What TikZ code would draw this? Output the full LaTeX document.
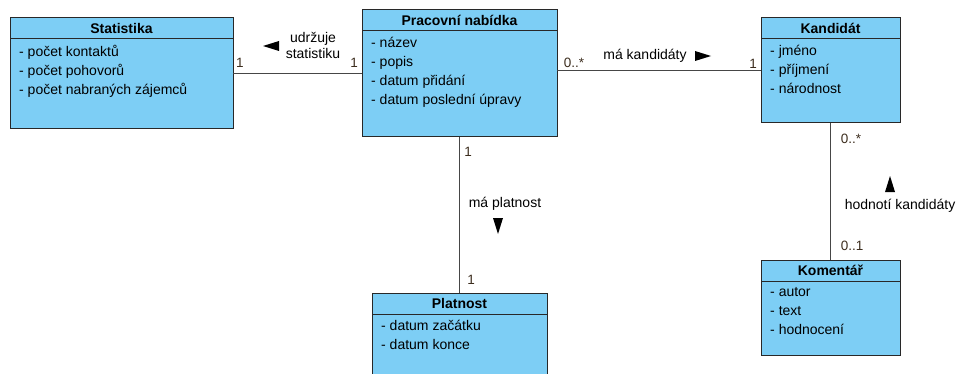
\documentclass[tikz,border=0pt]{standalone}
\usepackage{fontspec}
\setmainfont{Liberation Sans}
\usepackage{tikz}
\usetikzlibrary{calc}

\definecolor{classfill}{RGB}{125,206,245}
\definecolor{classedge}{RGB}{40,40,40}
\definecolor{assocline}{RGB}{70,70,70}
\definecolor{multcolor}{RGB}{60,45,30}

\tikzset{
    classbox/.style={draw=classedge, fill=classfill, line width=1pt, inner sep=0pt, outer sep=0pt},
    classtitle/.style={font=\fontsize{14}{16}\selectfont\bfseries, inner sep=0pt},
    classattr/.style={font=\fontsize{14}{19}\selectfont, align=left, inner sep=0pt, anchor=north west},
    assoc/.style={draw=assocline, line width=1pt},
    mult/.style={font=\fontsize{13.5}{16}\selectfont, text=multcolor, inner sep=0pt},
    rolename/.style={font=\fontsize{14}{16}\selectfont, align=center, inner sep=0pt},
}

% name, top left corner, width, height, title, attributes
\newcommand{\umlclass}[6]{%
    \node[classbox, minimum width=#3, minimum height=#4, anchor=north west] (#1) at (#2) {};
    \draw[classedge, line width=1pt] ([yshift=-21pt]#1.north west) -- ([yshift=-21pt]#1.north east);
    \node[classtitle] at ([yshift=-10.5pt]#1.north) {#5};
    \node[classattr] at ([xshift=9pt, yshift=-27pt]#1.north west) {#6};
}

% reading direction of an association name
\newcommand{\dirmark}[2]{%
    \fill[black, shift={(#1)}, rotate=#2] (8,0) -- (-8,5) -- (-8,-5) -- cycle;
}

\begin{document}
\begin{tikzpicture}[x=1pt, y=-1pt]
    \useasboundingbox (0,0) rectangle (957,374);
    \clip (0,0) rectangle (957,374);

    \coordinate (Pstat) at (10,18);
    \coordinate (Pprac) at (362,10);
    \coordinate (Pkand) at (761,18);
    \coordinate (Pkom) at (761,260);
    \coordinate (Pplat) at (372,293);

    \umlclass{stat}{Pstat}{223}{111}{Statistika}{- počet kontaktů\\- počet pohovorů\\- počet nabraných zájemců}
    \umlclass{prac}{Pprac}{195}{127}{Pracovní nabídka}{- název\\- popis\\- datum přidání\\- datum poslední úpravy}
    \umlclass{kand}{Pkand}{139}{105}{Kandidát}{- jméno\\- příjmení\\- národnost}
    \umlclass{kom}{Pkom}{139}{95}{Komentář}{- autor\\- text\\- hodnocení}
    \umlclass{plat}{Pplat}{175}{100}{Platnost}{- datum začátku\\- datum konce}

    % associations
    \draw[assoc] (stat.east) -- (prac.west);
    \draw[assoc] (prac.east |- kand.west) -- (kand.west);
    \draw[assoc] (prac.south) -- (plat.north);
    \draw[assoc] (kand.south) -- (kom.north);

    % udrzuje statistiku
    \node[mult] at (240,63) {1};
    \node[mult] at (354,63) {1};
    \node[rolename] at (313,45) {udržuje\\statistiku};
    \dirmark{271,46}{180}

    % ma kandidaty
    \node[mult] at (574,63) {0..*};
    \node[mult] at (753,64) {1};
    \node[rolename] at (645,56) {má kandidáty};
    \dirmark{703,56}{0}

    % ma platnost
    \node[mult] at (468,152) {1};
    \node[mult] at (471,280) {1};
    \node[rolename] at (505,204) {má platnost};
    \dirmark{498,226}{-90}

    % hodnoti kandidaty
    \node[mult] at (851,139) {0..*};
    \node[mult] at (852,246) {0..1};
    \node[rolename] at (900,206) {hodnotí kandidáty};
    \dirmark{890,184}{90}
\end{tikzpicture}
\end{document}
